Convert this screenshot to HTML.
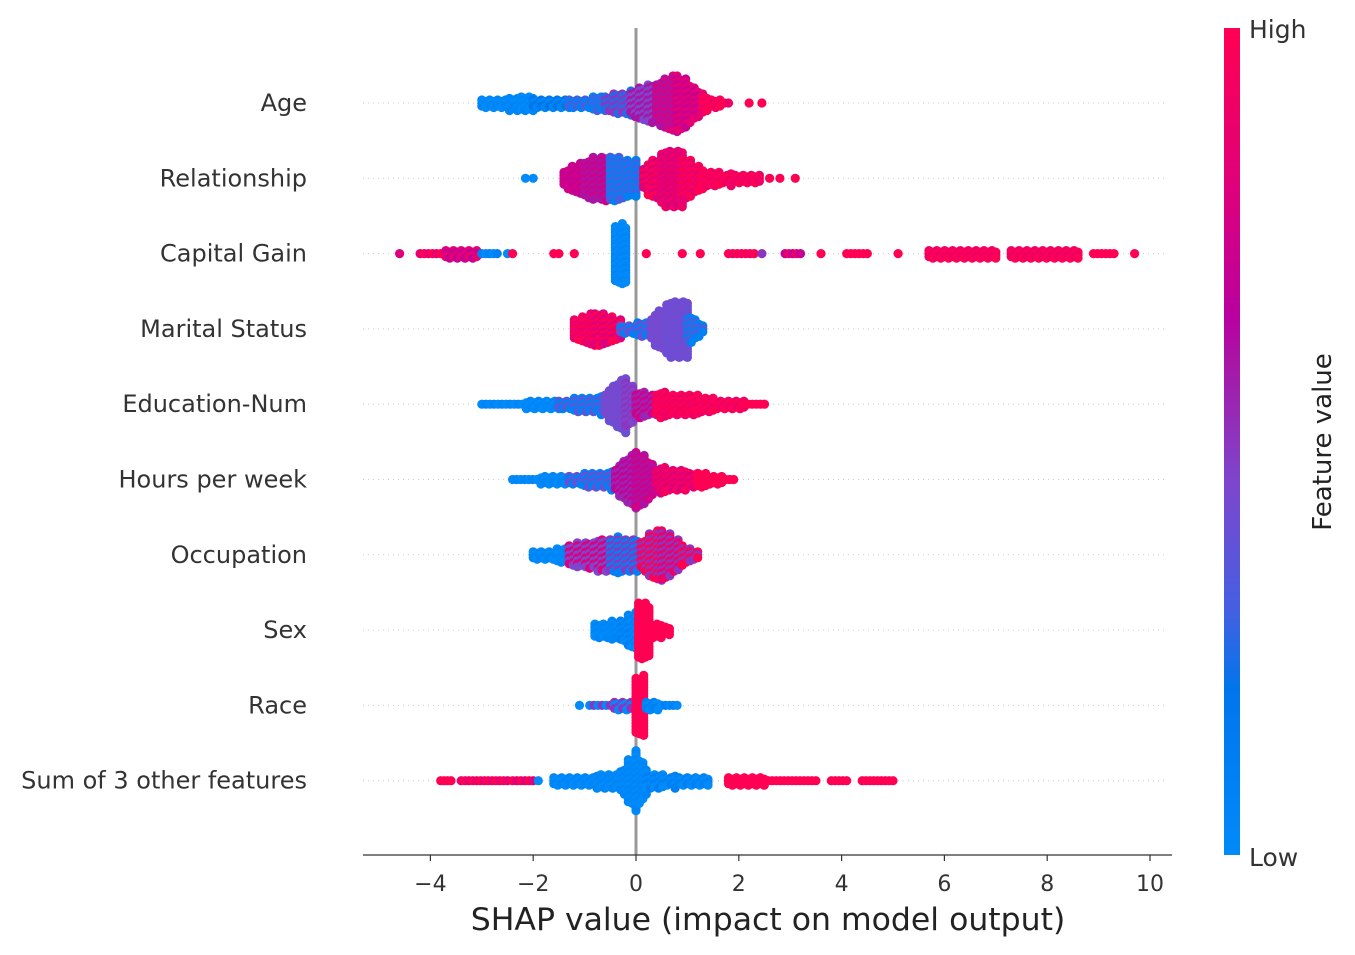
<!DOCTYPE html>
<html><head><meta charset="utf-8"><style>
body{margin:0;background:#fff}
svg{display:block;font-family:"DejaVu Sans","Liberation Sans",sans-serif}
</style></head><body>
<svg id="chart" width="1355" height="955" viewBox="0 0 1355 955" xmlns="http://www.w3.org/2000/svg">
<defs><linearGradient id="cbg" x1="0" y1="1" x2="0" y2="0">
<stop offset="0" stop-color="rgb(0,138,250)"/><stop offset="0.2" stop-color="rgb(0,118,235)"/>
<stop offset="0.3" stop-color="rgb(70,95,225)"/><stop offset="0.45" stop-color="rgb(125,70,205)"/>
<stop offset="0.6" stop-color="rgb(170,20,165)"/><stop offset="0.65" stop-color="rgb(185,0,160)"/>
<stop offset="0.82" stop-color="rgb(225,0,120)"/><stop offset="1" stop-color="rgb(255,0,82)"/>
</linearGradient></defs>
<g id="grid"></g><g id="dots"></g><g id="axis"></g>
<rect x="1224" y="28" width="16" height="827" fill="url(#cbg)"/>
<text x="1249" y="38" font-size="25" fill="#333">High</text>
<text x="1249" y="866" font-size="25" fill="#333">Low</text>
<text transform="translate(1331,442) rotate(-90)" text-anchor="middle" font-size="26" fill="#222">Feature value</text>
<text x="768" y="930" text-anchor="middle" font-size="31.5" fill="#222">SHAP value (impact on model output)</text>
</svg>
<script>
const features=["Age","Relationship","Capital Gain","Marital Status","Education-Num","Hours per week","Occupation","Sex","Race","Sum of 3 other features"];
const xTicks=[-4,-2,0,2,4,6,8,10];
// segments: [fromShap, toShap, halfCountStart, halfCountEnd, colorA, colorB]
const segAge=[[-3.0,-2.0,1,2,0,0.05],[-2.0,-1.3,1,1,0.05,0.2],[-1.3,-0.6,1,2,0.1,0.3],[-0.6,-0.1,2,4,0.25,0.5],[-0.1,0.4,4,7,0.45,0.6],[0.4,0.8,7,10,0.6,0.8],[0.8,1.3,10,3,0.7,0.85],[1.3,1.8,2,0,0.9,1],[2.2,2.2,0,0,1,1],[2.45,2.45,0,0,1,1]];
const segRel=[[-2.15,-2.15,0,0,0,0],[-2.0,-2.0,0,0,0,0],[-1.4,-1.0,2,6,0.75,0.7],[-1.0,-0.5,6,8,0.75,0.6],[-0.5,0.0,8,6,0.1,0.3],[0.15,0.5,4,8,1,0.8],[0.5,0.9,9,10,0.9,0.8],[0.9,1.3,8,3,1,0.85],[1.3,2.4,2,1,1,0.9],[2.6,2.6,0,0,1,1],[2.8,2.8,0,0,1,1],[3.1,3.1,0,0,1,1]];
const segCap=[[-4.6,-4.6,0,0,0.8,0.8],[-4.2,-3.8,0,0,0.85,1],[-3.7,-3.1,1,1,0.7,0.85],[-3.0,-2.7,0,0,0.1,0],[-2.5,-2.5,0,0,0,0],[-2.4,-2.4,0,0,1,1],[-1.6,-1.5,0,0,1,1],[-1.2,-1.2,0,0,1,1],[-0.4,-0.2,10,10,0,0.05],[0.2,0.2,0,0,1,1],[0.9,0.9,0,0,1,1],[1.25,1.25,0,0,1,1],[1.8,2.3,0,0,1,0.9],[2.45,2.45,0,0,0.5,0.5],[2.9,3.2,0,0,0.7,0.9],[3.6,3.6,0,0,1,1],[4.1,4.5,0,0,1,1],[5.1,5.1,0,0,1,1],[5.7,7.0,1,1,1,0.9],[7.3,8.6,1,1,1,0.9],[8.9,9.3,0,0,1,1],[9.7,9.7,0,0,1,1]];
const segMar=[[-1.2,-0.8,3,6,1,0.85],[-0.8,-0.3,6,3,1,0.8],[-0.3,0.2,1,2,0.1,0.4],[0.3,0.6,4,8,0.4,0.45],[0.6,1.0,9,10,0.4,0.42],[1.0,1.3,5,1,0.35,0.1]];
const segEdu=[[-3.0,-1.5,0,1,0,0.05],[-1.5,-0.6,1,3,0.1,0.35],[-0.6,-0.2,4,10,0.4,0.45],[-0.2,0.0,8,5,0.45,0.5],[0.0,0.4,4,3,0.55,0.75],[0.4,1.2,4,3,0.9,1],[1.2,2.1,2,1,1,0.9],[2.1,2.5,0,0,1,1]];
const segHrs=[[-2.4,-1.3,0,1,0,0.05],[-1.3,-0.4,1,3,0.1,0.4],[-0.4,0.0,4,10,0.55,0.7],[0.0,0.4,10,4,0.6,0.75],[0.4,1.2,4,2,0.95,0.8],[1.2,1.9,2,0,1,1]];
const segOcc=[[-2.0,-1.3,1,2,0,0.05],[-1.3,-0.5,3,6,0.45,0.8],[-0.5,0.1,6,5,0.1,0.5],[0.1,0.5,5,9,1,0.5],[0.5,0.9,9,4,0.9,0.5],[0.9,1.2,3,1,0.5,1]];
const segSex=[[-0.8,-0.3,2,3,0,0.05],[-0.3,0.0,3,6,0,0.1],[0.05,0.25,10,9,1,1],[0.25,0.65,3,1,1,1]];
const segRace=[[-1.1,-1.1,0,0,0,0],[-0.9,-0.1,0,1,0,0.5],[0.0,0.15,10,10,1,1],[0.2,0.8,1,0,0,0.1]];
const segSum=[[-3.8,-3.6,0,0,1,1],[-3.4,-2.5,0,0,0.85,1],[-2.4,-2.0,0,0,1,0.8],[-1.9,-1.9,0,0,0,0],[-1.6,-0.3,1,2,0,0.05],[-0.3,0.0,3,10,0,0.05],[0.0,0.2,10,4,0,0.05],[0.2,1.4,2,1,0,0.1],[1.8,3.5,1,0,1,1],[3.8,4.1,0,0,1,1],[4.4,5.0,0,0,1,1]];
const allSegs=[segAge,segRel,segCap,segMar,segEdu,segHrs,segOcc,segSex,segRace,segSum];

const NS="http://www.w3.org/2000/svg";
const x0=636,pxPerUnit=51.4;
function xs(v){return x0+v*pxPerUnit;}
function ys(i){return 103+i*75.3;}
function col(t){
  const st=[[0,0,138,250],[0.2,0,118,235],[0.3,70,95,225],[0.45,125,70,205],[0.6,170,20,165],[0.65,185,0,160],[0.82,225,0,120],[1,255,0,82]];
  for(let k=1;k<st.length;k++){if(t<=st[k][0]){const a=st[k-1],b=st[k],f=(t-a[0])/(b[0]-a[0]);
    return `rgb(${Math.round(a[1]+f*(b[1]-a[1]))},${Math.round(a[2]+f*(b[2]-a[2]))},${Math.round(a[3]+f*(b[3]-a[3]))})`;}}
  return "rgb(255,0,82)";
}
function mk(tag,attrs,parent){const e=document.createElementNS(NS,tag);for(const k in attrs)e.setAttribute(k,attrs[k]);parent.appendChild(e);return e;}
const grid=document.getElementById('grid'),dots=document.getElementById('dots'),axis=document.getElementById('axis');
features.forEach((f,i)=>{
  const l=mk('line',{x1:363,x2:1168,y1:ys(i),y2:ys(i),stroke:'#ccc','stroke-width':1,'stroke-dasharray':'1,4'},grid);
  
  
  const t=mk('text',{x:307,y:ys(i)+8,'text-anchor':'end','font-size':24,fill:'#333'},axis);
  t.textContent=f;
  
  
});
const zl=mk('line',{x1:x0,x2:x0,y1:28,y2:855,stroke:'#999','stroke-width':3},grid);


allSegs.forEach((segs,i)=>{
  const g=mk('g',{},dots);
  
  
  segs.forEach(s=>{
    const a=xs(s[0]),b=xs(s[1]);
    const n=Math.max(1,Math.round((b-a)/4)+1);
    for(let c=0;c<n;c++){
      const f=n===1?0:c/(n-1);
      const px=a+(b-a)*f;
      const hf=s[2]+(s[3]-s[2])*f;
      const h=Math.round(hf*(0.85+0.15*((c*7)%5)/4));
      const off=(c%2)?1.5:0;
      for(let k=-h;k<=h;k++){
        const cy=ys(i)+k*3+(h>0?off:0);
        const d=mk('circle',{cx:px.toFixed(1),cy:cy.toFixed(1),r:4.6,fill:col(((k+c)%2===0)?s[4]:s[5])},g);
        
        
      }
    }
  });
});
const ax=mk('line',{x1:363,x2:1172,y1:855,y2:855,stroke:'#333','stroke-width':1.2},axis);


xTicks.forEach(v=>{
  const tk=mk('line',{x1:xs(v),x2:xs(v),y1:855,y2:861,stroke:'#333','stroke-width':1.2},axis);
  
  
  const t=mk('text',{x:xs(v),y:891,'text-anchor':'middle','font-size':22,fill:'#333'},axis);
  t.textContent=(v<0?'\u2212'+(-v):String(v));
  
  
});
</script>
</body></html>
